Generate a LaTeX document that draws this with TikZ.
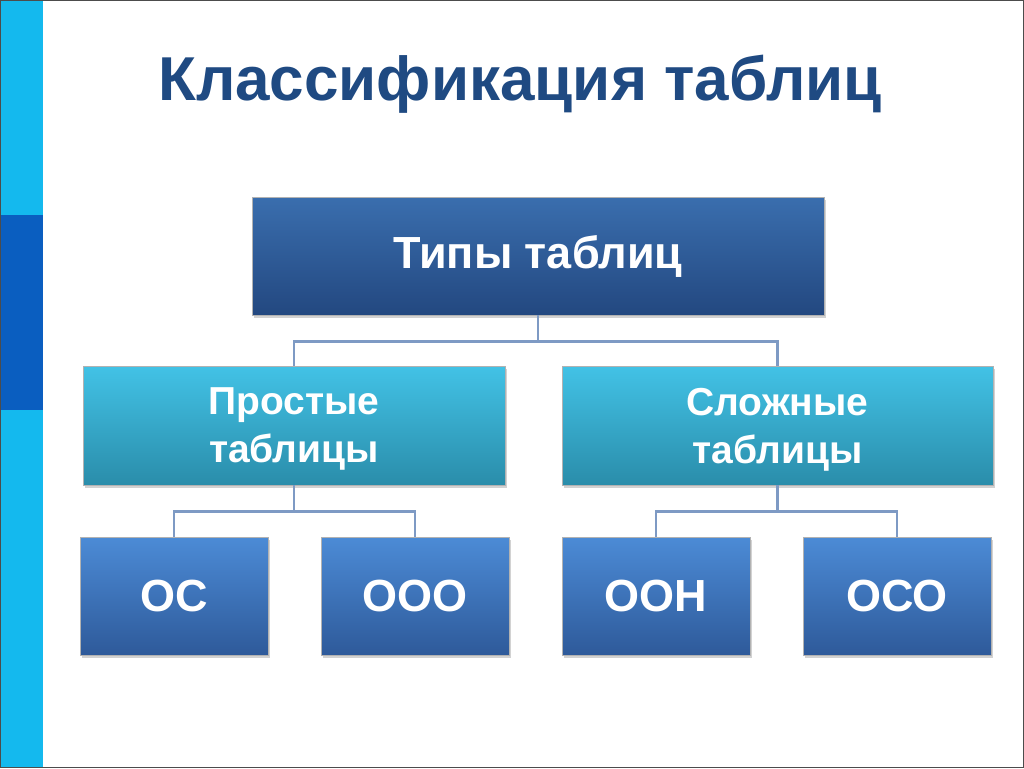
\documentclass[tikz,border=0pt]{standalone}
\usepackage{fontspec}
\setmainfont{Liberation Sans}
\usetikzlibrary{shadows}
\definecolor{barlight}{HTML}{14B9EE}
\definecolor{bardark}{HTML}{0A5EC0}
\definecolor{titleblue}{HTML}{1F4A82}
\definecolor{conncol}{HTML}{7E9AC4}
\definecolor{topA}{HTML}{3A6EAE}
\definecolor{topB}{HTML}{234880}
\definecolor{midA}{HTML}{42C2E6}
\definecolor{midB}{HTML}{2A8DAA}
\definecolor{leafA}{HTML}{4C8BD6}
\definecolor{leafB}{HTML}{2E5A9A}
\tikzset{
  box/.style={draw=white!70!black, line width=0.6pt, minimum height=118pt, align=center,
    text=white, drop shadow={shadow xshift=2pt, shadow yshift=-3pt, opacity=0.35}},
  topbox/.style={box, top color=topA, bottom color=topB},
  midbox/.style={box, top color=midA, bottom color=midB, minimum height=119pt},
  leafbox/.style={box, top color=leafA, bottom color=leafB, minimum width=188pt,
    font=\bfseries\fontsize{45}{50}\selectfont},
  conn/.style={draw=conncol, line width=2.6pt},
}
\begin{document}
\begin{tikzpicture}[x=1pt,y=-1pt]
\useasboundingbox (0,0) rectangle (1024,768);
\fill[white] (0,0) rectangle (1024,768);
\fill[barlight] (0,0) rectangle (43,768);
\fill[bardark] (0,215) rectangle (43,410);
\draw[black!70, line width=1.2pt] (0.6,0.6) rectangle (1023.4,767.4);
\node[text=titleblue, font=\bfseries\fontsize{62}{70}\selectfont] (title) at (520,84) {Классификация таблиц};
\node[topbox, minimum width=572pt, font=\bfseries\fontsize{45}{50}\selectfont] (top) at (538,256) {Типы таблиц};
\node[midbox, minimum width=422pt, font=\bfseries\fontsize{39}{48}\selectfont, text depth=0pt] (ml) at (294,425.5) {Простые\\таблицы};
\node[midbox, minimum width=431pt, font=\bfseries\fontsize{39}{48}\selectfont, text depth=0pt] (mr) at (777.5,425.5) {Сложные\\таблицы};
\node[leafbox] (a) at (174,596) {ОС};
\node[leafbox] (b) at (415,596) {ООО};
\node[leafbox] (c) at (656,596) {ООН};
\node[leafbox] (d) at (897,596) {ОСО};
\draw[conn] (top.south) -- ++(0,26) -| (ml.north);
\draw[conn] (top.south) -- ++(0,26) -| (mr.north);
\draw[conn] (ml.south) -- ++(0,26) -| (a.north);
\draw[conn] (ml.south) -- ++(0,26) -| (b.north);
\draw[conn] (mr.south) -- ++(0,26) -| (c.north);
\draw[conn] (mr.south) -- ++(0,26) -| (d.north);
\end{tikzpicture}
\end{document}
